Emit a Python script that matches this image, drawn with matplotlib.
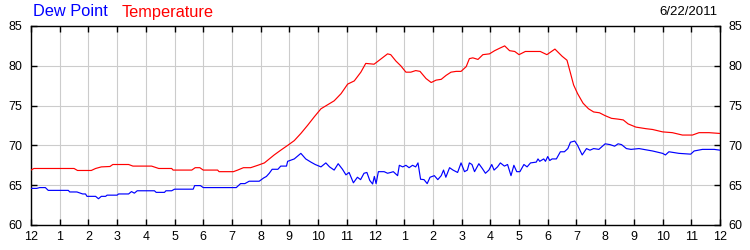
import matplotlib
matplotlib.use('Agg')
from matplotlib import pyplot as plt

# hours since midnight, values in degrees F
temp_hours = [0.0, 0.1, 1.5, 1.62, 2.1, 2.25, 2.45, 2.75, 2.85, 3.4, 3.55, 4.2, 4.45, 4.9,
              4.95, 5.6, 5.72, 5.88, 6.0, 6.5, 6.55, 7.05, 7.2, 7.4, 7.65, 7.9, 8.13, 8.3,
              8.47, 8.7, 8.94, 9.17, 9.4, 9.63, 9.87, 10.1, 10.33, 10.56, 10.8, 11.03, 11.26,
              11.49, 11.66, 11.95, 12.24, 12.42, 12.53, 12.71, 12.88, 13.06, 13.23, 13.4,
              13.55, 13.76, 13.94, 14.11, 14.29, 14.46, 14.63, 14.81, 14.98, 15.16, 15.27,
              15.39, 15.57, 15.74, 15.97, 16.15, 16.32, 16.5, 16.67, 16.85, 17.0, 17.22,
              17.74, 17.97, 18.25, 18.5, 18.67, 18.79, 18.9, 19.04, 19.23, 19.42, 19.6,
              19.8, 19.99, 20.22, 20.45, 20.63, 20.8, 21.07, 21.42, 21.65, 22.0, 22.34,
              22.69, 23.04, 23.27, 23.62, 24.0]
temperature = [66.9, 67.1, 67.1, 66.85, 66.85, 67.1, 67.3, 67.35, 67.6, 67.6, 67.4, 67.4, 67.1,
               67.1, 66.9, 66.9, 67.2, 67.2, 66.9, 66.9, 66.7, 66.7, 66.9, 67.2, 67.2, 67.5,
               67.8, 68.3, 68.8, 69.4, 70.0, 70.6, 71.5, 72.5, 73.6, 74.6, 75.1, 75.6, 76.5,
               77.7, 78.1, 79.2, 80.3, 80.2, 81.0, 81.5, 81.4, 80.6, 80.0, 79.2, 79.2, 79.4,
               79.3, 78.4, 77.9, 78.2, 78.3, 78.8, 79.2, 79.3, 79.3, 79.9, 80.9, 81.0, 80.8,
               81.4, 81.5, 81.9, 82.2, 82.5, 81.9, 81.8, 81.4, 81.8, 81.8, 81.4, 82.1, 81.2,
               80.7, 79.1, 77.6, 76.5, 75.3, 74.6, 74.2, 74.1, 73.75, 73.4, 73.3, 73.2, 72.7,
               72.3, 72.1, 72.0, 71.7, 71.6, 71.3, 71.3, 71.6, 71.6, 71.5]

dew_hours = [0.0, 0.2, 0.3, 0.5, 0.6, 1.3, 1.35, 1.6, 1.8, 1.9, 1.95, 2.25, 2.35, 2.45, 2.6,
             2.65, 3.0, 3.05, 3.4, 3.5, 3.6, 3.7, 4.3, 4.36, 4.65, 4.7, 4.9, 5.0, 5.65, 5.7,
             5.9, 6.0, 7.15, 7.3, 7.45, 7.6, 7.95, 8.1, 8.2, 8.3, 8.4, 8.6, 8.7, 8.9, 8.94,
             9.17, 9.4, 9.57, 9.75, 9.9, 10.1, 10.27, 10.4, 10.56, 10.7, 10.85, 10.97, 11.08,
             11.23, 11.37, 11.48, 11.6, 11.7, 11.8, 11.9, 11.96, 12.02, 12.1, 12.3, 12.42,
             12.53, 12.62, 12.77, 12.83, 12.95, 13.06, 13.17, 13.29, 13.4, 13.48, 13.57,
             13.69, 13.8, 13.9, 14.05, 14.17, 14.29, 14.37, 14.45, 14.58, 14.7, 14.86, 14.98,
             15.1, 15.2, 15.27, 15.36, 15.45, 15.6, 15.72, 15.83, 15.95, 16.05, 16.13, 16.25,
             16.35, 16.49, 16.6, 16.72, 16.82, 16.92, 17.03, 17.17, 17.28, 17.4, 17.6, 17.66,
             17.72, 17.86, 17.92, 18.0, 18.07, 18.15, 18.3, 18.44, 18.58, 18.7, 18.79, 18.94,
             19.04, 19.2, 19.35, 19.47, 19.6, 19.78, 20.0, 20.17, 20.33, 20.45, 20.57, 20.74,
             20.9, 21.18, 21.65, 22.0, 22.1, 22.22, 22.57, 22.98, 23.1, 23.39, 23.8, 24.0]
dew_point = [64.6, 64.6, 64.7, 64.7, 64.35, 64.35, 64.15, 64.15, 63.9, 63.9, 63.6, 63.6, 63.3,
             63.6, 63.6, 63.75, 63.75, 63.9, 63.9, 64.2, 64.0, 64.3, 64.3, 64.1, 64.1, 64.3,
             64.3, 64.5, 64.5, 64.95, 64.95, 64.7, 64.7, 65.2, 65.2, 65.5, 65.5, 65.9, 66.1,
             66.5, 67.0, 67.0, 67.4, 67.4, 68.0, 68.3, 69.0, 68.3, 67.9, 67.6, 67.3, 67.8,
             67.3, 66.9, 67.7, 67.0, 66.3, 66.6, 65.3, 66.0, 65.7, 66.5, 66.6, 65.6, 65.15,
             66.1, 65.2, 66.7, 66.7, 66.5, 66.6, 66.7, 66.2, 67.5, 67.3, 67.5, 67.2, 67.5,
             67.3, 67.8, 65.75, 65.7, 65.2, 66.0, 66.2, 65.7, 66.2, 66.9, 66.0, 67.2, 66.9,
             66.6, 67.8, 66.7, 66.9, 67.8, 67.6, 66.7, 67.7, 67.1, 66.5, 66.9, 67.6, 66.9,
             67.3, 67.8, 67.4, 67.6, 66.2, 67.5, 66.7, 66.7, 67.6, 67.3, 67.8, 67.9, 68.3,
             68.0, 68.3, 68.0, 68.6, 68.1, 68.3, 68.3, 69.2, 69.2, 69.6, 70.4, 70.55, 70.0,
             68.8, 69.6, 69.4, 69.6, 69.5, 70.2, 70.1, 69.9, 70.2, 70.1, 69.6, 69.5, 69.6,
             69.3, 69.0, 68.8, 69.2, 69.0, 68.9, 69.3, 69.5, 69.5, 69.4]

hour_labels = ['12', '1', '2', '3', '4', '5', '6', '7', '8', '9', '10', '11',
               '12', '1', '2', '3', '4', '5', '6', '7', '8', '9', '10', '11', '12']
y_ticks = [60, 65, 70, 75, 80, 85]
date_text = '6/22/2011'

plt.rcParams['font.family'] = ['Liberation Sans', 'DejaVu Sans']

fig = plt.figure(figsize=(7.5, 2.5), dpi=100)
ax = fig.add_axes([31 / 750, 25 / 250, 689 / 750, 199 / 250])

ax.plot(dew_hours, dew_point, color='#0000ff', lw=0.85, zorder=3)
ax.plot(temp_hours, temperature, color='#ff0000', lw=0.85, zorder=3)

ax.set_xlim(0, 24)
ax.set_ylim(60, 85)
ax.set_xticks(range(25))
ax.set_xticklabels(hour_labels)
ax.set_yticks(y_ticks)
ax.grid(True, color='#cccccc', lw=0.8)
ax.set_axisbelow(True)

for s in ax.spines.values():
    s.set_linewidth(1.0)
    s.set_color('black')

ax.tick_params(axis='both', direction='in', length=4, width=1, labelsize=9,
               top=True, right=True, labelright=True)
ax.tick_params(axis='x', pad=4)
ax.tick_params(axis='y', pad=6)

fig.text(33 / 750, 1 - 12 / 250, 'Dew Point', color='#0000ff', fontsize=11.8, va='center', ha='left')
fig.text(122 / 750, 1 - 12 / 250, 'Temperature', color='#ff0000', fontsize=11.8, va='center', ha='left')
fig.text(718 / 750, 1 - 12 / 250, date_text, color='black', fontsize=9.5, va='center', ha='right')

fig.savefig('out.png', dpi=100)
